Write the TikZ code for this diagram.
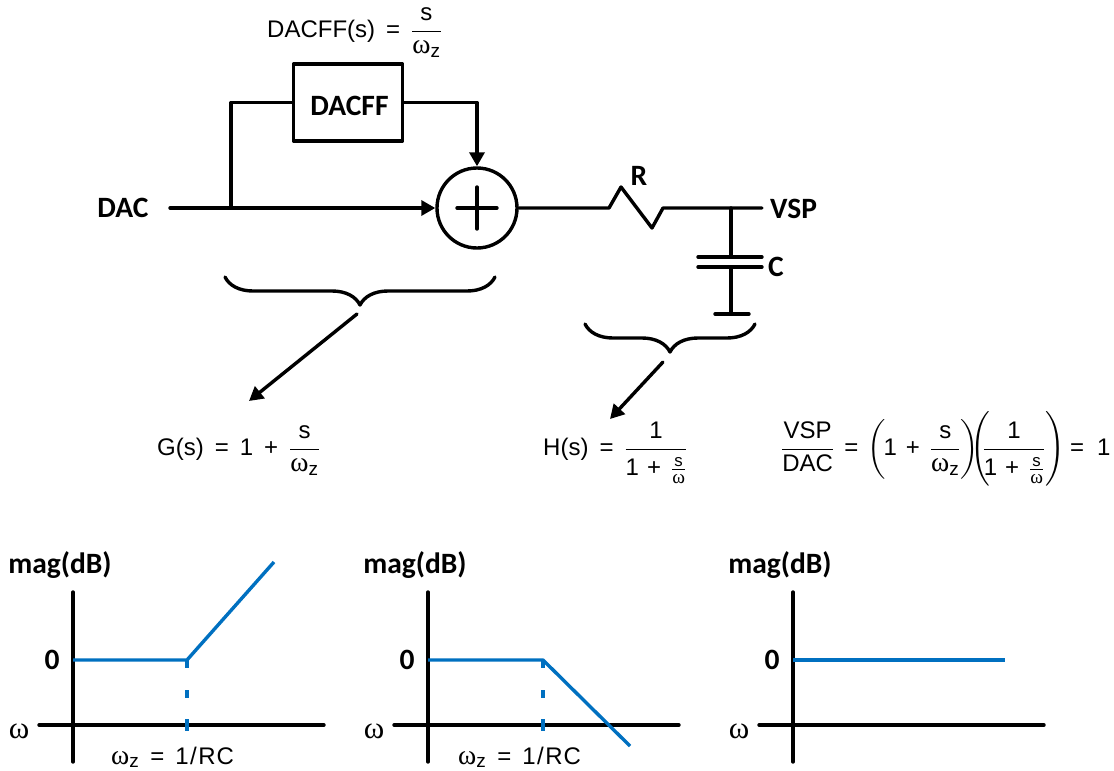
\RequirePackage{fix-cm}
\documentclass[tikz,border=0pt]{standalone}
\usepackage{amsmath}
\usepackage{fontspec}
\setmainfont{Liberation Sans}
\newfontfamily\lblfont{Carlito}
\newfontfamily\omgfont[Scale=1.15]{Liberation Serif}
\usetikzlibrary{arrows.meta,positioning}
\usetikzlibrary{decorations.pathreplacing}
\usetikzlibrary{calc}
\definecolor{plotblue}{RGB}{0,112,192}
\newcommand{\om}{\text{\omgfont ω}}
\newcommand{\wz}{\om_{\text{\fontsize{19}{20}\selectfont z}}}
\newcommand{\tx}[1]{\text{#1}}
\newcommand{\gp}{\hspace{11pt}}
\newcommand{\smfrac}{\frac{\text{s}}{\om}}
\newcommand{\onefrac}{\dfrac{\tx{1}}{\rule{0pt}{23pt}\tx{1}\hspace{8pt}\tx{+}\hspace{10pt}\smfrac}}
\newcommand{\rclbl}{\tx{1\kern1.5pt/\kern1.5ptR\kern1ptC}}
\tikzset{
  wire/.style={line width=3.4pt,line cap=round,line join=round},
  plotline/.style={line width=3.4pt,color=plotblue},
  lbl/.style={inner sep=0pt,font=\fontsize{29.5}{33}\bfseries\lblfont\selectfont},
  eqn/.style={inner sep=0pt,anchor=base west,font=\fontsize{24}{28}\selectfont},
  omlbl/.style={inner sep=0pt,font=\fontsize{27}{30}\omgfont\selectfont},
  arrowtip/.style={-{Triangle[length=14pt,width=15pt]}},
  bracetip/.style={decorate,decoration={brace,amplitude=28pt,mirror}},
}
\begin{document}
\begin{tikzpicture}[x=1pt,y=-1pt]
\useasboundingbox (0,0) rectangle (1114,771);
% block diagram
\node[lbl] (dac) at (123,208) {DAC};
\coordinate (dacend) at (170,208);
\coordinate (tap) at (231,208);
\node[draw,wire,minimum width=109pt,minimum height=77pt,inner sep=0pt] (ff) at (348,102.5) {};
\node[lbl] (fflbl) at (349.5,106) {DACFF};
\node[draw,wire,circle,minimum size=80pt,inner sep=0pt] (sum) at (477,208) {};
\draw[wire] ([xshift=-20pt]sum.center) -- ([xshift=20pt]sum.center);
\draw[wire] ([yshift=21pt]sum.center) -- ([yshift=-21pt]sum.center);
\draw[wire,arrowtip] (dacend) -- (sum.west);
\draw[wire] (tap) |- (ff.west);
\draw[wire,arrowtip] (ff.east) -| (sum.north);
\node[eqn] (ffeq) at (267,37) {$\tx{DACFF(s)}\gp\tx{=}\gp\dfrac{\tx{s}}{\wz}$};
% RC
\coordinate (rin) at (609,208);
\coordinate (vspend) at (762,208);
\coordinate (node) at (731,208);
\coordinate (topplate) at (731,257);
\coordinate (botplate) at (731,267);
\coordinate (gnd) at (731,314);
\draw[wire] (sum.east) -- (rin) -- (621,187) -- (652,228) -- (663,208) -- (vspend);
\draw[wire] (node) -- (topplate);
\draw[wire] (botplate) -- (gnd);
\draw[wire] ($(topplate)+(-33,0)$) -- ($(topplate)+(31,0)$);
\draw[wire] ($(botplate)+(-33,0)$) -- ($(botplate)+(31,0)$);
\draw[wire] ($(gnd)+(-16,0)$) -- ($(gnd)+(18,0)$);
\node[lbl] (rlbl) at (639,176) {R};
\node[lbl] (vsp) at (793.5,209) {VSP};
\node[lbl] (clbl) at (776,267) {C};
% braces
\coordinate (bl) at (225,277);
\coordinate (br) at (495,277);
\coordinate (cl) at (585,324);
\coordinate (cr) at (755,324);
\draw[wire,bracetip] (bl) -- (br);
\draw[wire,bracetip] (cl) -- (cr);
\coordinate (ga) at (357,314);
\coordinate (gb) at (249,401);
\coordinate (ha) at (663,362);
\coordinate (hb) at (610,419);
\draw[wire,arrowtip] (ga) -- (gb);
\draw[wire,arrowtip] (ha) -- (hb);
\node[eqn] (geq) at (157,455) {$\tx{G(s)}\gp\tx{=}\gp\tx{1}\gp\tx{+}\gp\dfrac{\tx{s}}{\wz}$};
\node[eqn] (heq) at (543,455) {$\tx{H(s)}\gp\tx{=}\gp\onefrac$};
\node[eqn] (teq) at (781,455) {$\dfrac{\tx{VSP}}{\tx{DAC}}\hspace{10pt}\tx{=}\hspace{9pt}\biggl(\hspace{-2pt}\tx{1}\hspace{9pt}\tx{+}\hspace{10pt}\dfrac{\tx{s}}{\wz}\biggr)\hspace{-12pt}\left(\hspace{-8pt}\onefrac\right)\hspace{1pt}\tx{=}\hspace{13pt}\tx{1}$};
% bode plots
\foreach \gx/\gname in {73/a,428/b,793/c}{
  \coordinate (top\gname) at (\gx,592);
  \coordinate (bot\gname) at (\gx,762);
  \coordinate (xl\gname) at (\gx-34,725);
  \coordinate (xr\gname) at (\gx+251,725);
  \coordinate (st\gname) at (\gx,660);
  \draw[wire] (top\gname) -- (bot\gname);
  \draw[wire] (xl\gname) -- (xr\gname);
  \node[lbl] (mag\gname) at (\gx-13,565) {mag(dB)};
  \node[lbl] (zero\gname) at (\gx-21,660) {0};
  \node[omlbl] (om\gname) at (\gx-54,731) {ω};
}
\coordinate (kneea) at (187,660);
\coordinate (kneeb) at (543,660);
\coordinate (enda) at (274,562);
\coordinate (endb) at (630,746);
\coordinate (endc) at (1005,660);
\draw[plotline,line join=round] (sta) -- (kneea) -- (enda);
\draw[plotline,line join=round] (stb) -- (kneeb) -- (endb);
\draw[plotline] (stc) -- (endc);
\foreach \kx in {187,543}{
  \draw[plotline] (\kx,660) -- (\kx,668);
  \draw[plotline] (\kx,690) -- (\kx,698);
  \draw[plotline] (\kx,719) -- (\kx,731);
}
\node[eqn] (wa) at (111,764) {$\wz\gp\tx{=}\gp\rclbl$};
\node[eqn] (wb) at (458,764) {$\wz\gp\tx{=}\gp\rclbl$};
\end{tikzpicture}
\end{document}
